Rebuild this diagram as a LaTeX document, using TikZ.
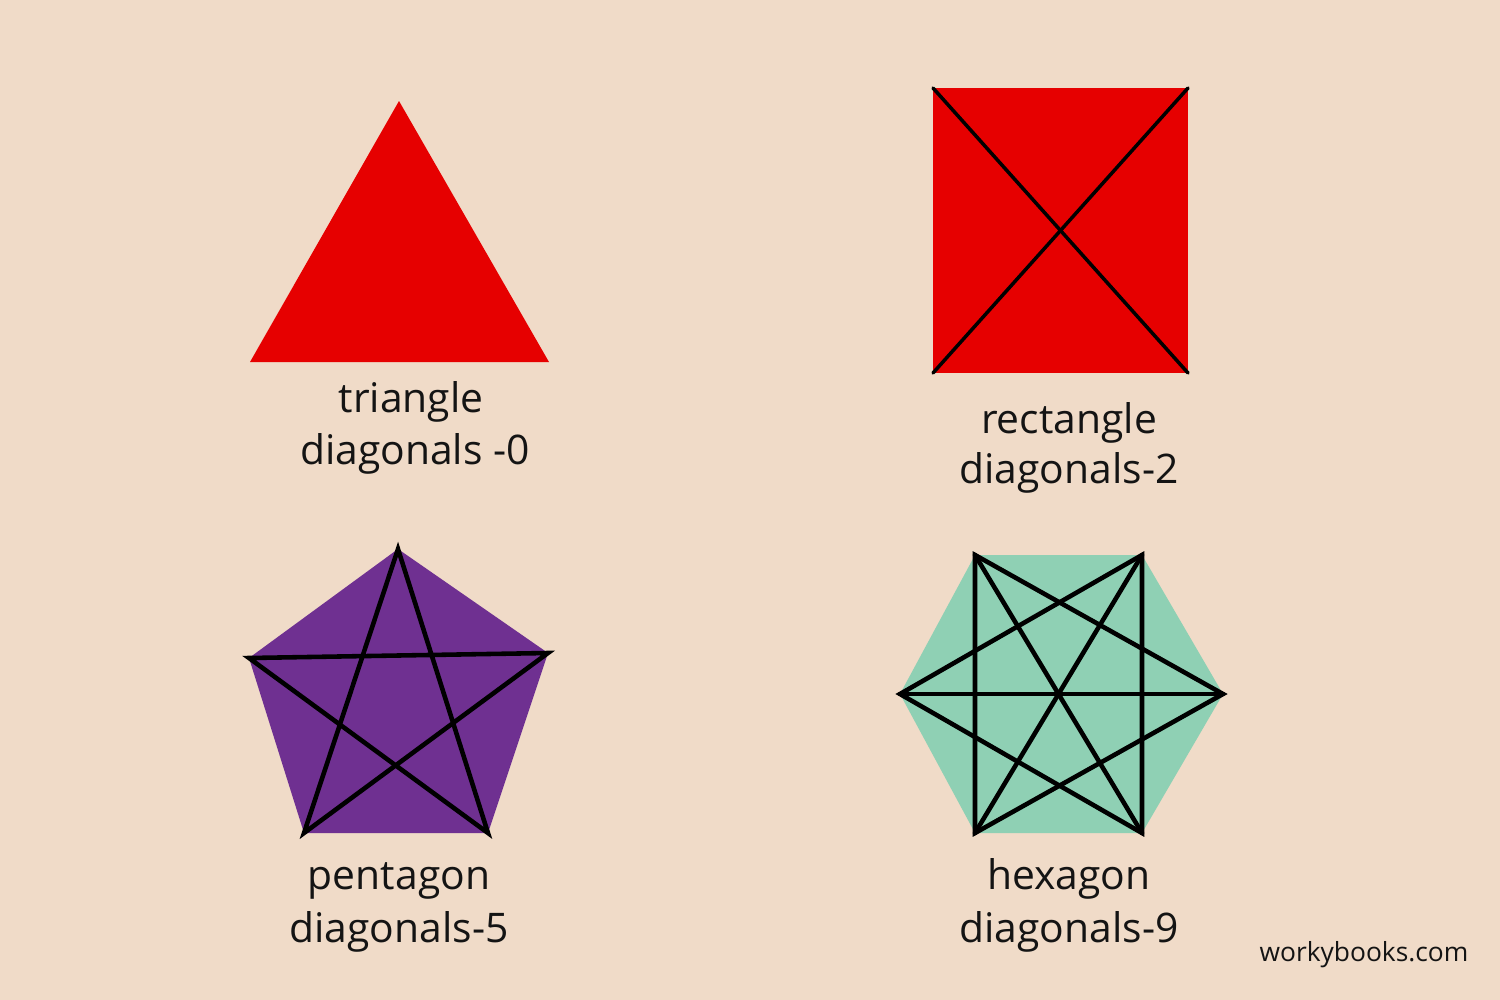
\documentclass[tikz,border=0pt]{standalone}
\usepackage{fontspec}
\setmainfont{Open Sans}
\definecolor{peach}{RGB}{240,219,200}
\definecolor{trired}{RGB}{230,0,0}
\definecolor{pentpurple}{RGB}{111,48,145}
\definecolor{hexgreen}{RGB}{143,208,180}
\definecolor{ink}{RGB}{20,20,20}
\begin{document}
\begin{tikzpicture}[x=0.01cm,y=-0.01cm]
    \tikzstyle{diag}=[draw=black,line width=1.3pt,line cap=round]
    \tikzstyle{caption}=[anchor=base,text=ink,inner sep=0pt,font=\fontsize{11.6}{14}\selectfont]

    \fill[peach] (0,0) rectangle (1500,1000);

    \coordinate (t0) at (399,101);
    \coordinate (t1) at (250,362);
    \coordinate (t2) at (549,362);
    \fill[trired] (t0) -- (t1) -- (t2) -- cycle;

    \coordinate (r0) at (933,88);
    \coordinate (r1) at (1188,88);
    \coordinate (r2) at (1188,373);
    \coordinate (r3) at (933,373);
    \fill[trired] (r0) -- (r1) -- (r2) -- (r3) -- cycle;
    \draw[diag,line width=1pt] (r0) -- (r2);
    \draw[diag,line width=1pt] (r1) -- (r3);

    \coordinate (p0) at (398,549);
    \coordinate (p1) at (548,653);
    \coordinate (p2) at (488,833);
    \coordinate (p3) at (304,833);
    \coordinate (p4) at (249,658);
    \fill[pentpurple] (p0) -- (p1) -- (p2) -- (p3) -- (p4) -- cycle;
    \draw[diag] (p0) -- (p2) -- (p4) -- (p1) -- (p3) -- cycle;

    \coordinate (h0) at (975,555);
    \coordinate (h1) at (1142,555);
    \coordinate (h2) at (1223,694);
    \coordinate (h3) at (1142,833);
    \coordinate (h4) at (975,833);
    \coordinate (h5) at (900,694);
    \fill[hexgreen] (h0) -- (h1) -- (h2) -- (h3) -- (h4) -- (h5) -- cycle;
    \draw[diag] (h0) -- (h2) -- (h4) -- cycle;
    \draw[diag] (h1) -- (h3) -- (h5) -- cycle;
    \draw[diag] (h0) -- (h3);
    \draw[diag] (h1) -- (h4);
    \draw[diag] (h2) -- (h5);

    \node[caption] at (411,412) (tname) {triangle};
    \node[caption] at (415,464) (tcount) {diagonals -0};
    \node[caption] at (1069,433) (rname) {rectangle};
    \node[caption] at (1069,483) (rcount) {diagonals-2};
    \node[caption] at (399,889) (pname) {pentagon};
    \node[caption] at (399,942) (pcount) {diagonals-5};
    \node[caption] at (1069,889) (hname) {hexagon};
    \node[caption] at (1069,942) (hcount) {diagonals-9};
    \node[caption,font=\fontsize{7.5}{9}\selectfont] at (1364,961) (site) {workybooks.com};
\end{tikzpicture}
\end{document}
